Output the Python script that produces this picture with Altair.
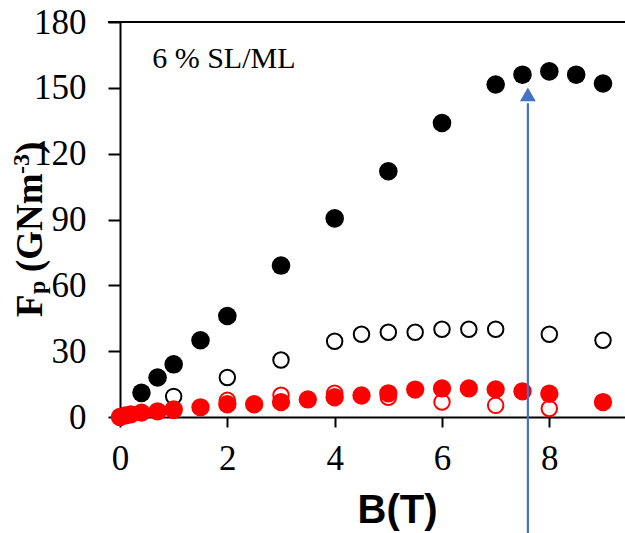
import altair as alt
import pandas as pd

# black filled circles
bf_x = [0.4, 0.7, 1, 1.5, 2, 3, 4, 5, 6, 7, 7.5, 8, 8.5, 9]
bf_y = [11, 18, 24, 35, 46, 69, 90.5, 112, 134, 151.5, 156, 157.5, 156, 152]
# black open circles
bo_x = [1, 2, 3, 4, 4.5, 5, 5.5, 6, 6.5, 7, 8, 9]
bo_y = [9.4, 18, 26, 34.5, 37.7, 38.6, 38.6, 40, 40, 40, 37.7, 35]
# red filled circles
rf_x = [0, 0.1, 0.2, 0.4, 0.7, 1, 1.5, 2, 2.5, 3, 3.5, 4, 4.5, 5, 5.5, 6, 6.5, 7, 7.5, 8, 9]
rf_y = [0, 0.7, 1.2, 2, 2.6, 3.5, 4.4, 5.8, 5.8, 6.8, 8, 9, 9.8, 10.8, 12.5, 13, 13, 12.6, 11.7, 10.6, 6.8]
# red open circles
ro_x = [0, 1, 2, 3, 4, 5, 6, 7, 8]
ro_y = [0, 3, 7.6, 9.9, 10.8, 9, 6.8, 5.3, 3.9]

arrow_x = 7.6
arrow_y_start = -60
arrow_y_end = 143
arrow_head_y = 147

x_ticks = [0, 2, 4, 6, 8]
y_ticks = [0, 30, 60, 90, 120, 150, 180]

SERIF = "Liberation Serif"

xs = alt.Scale(domain=[0, 9.41], nice=False, zero=False)
ys = alt.Scale(domain=[0, 180], nice=False)

x_axis = alt.Axis(values=x_ticks, title="B(T)", labelFont=SERIF, labelFontSize=35,
                  labelColor="black", labelPadding=14, tickSize=10, tickWidth=2,
                  tickColor="black", domainColor="black", domainWidth=2, grid=False,
                  titleFont="Liberation Sans", titleFontSize=40, titleFontWeight="bold",
                  titleColor="black", titleX=277, titleY=105, titleBaseline="alphabetic",
                  titleAlign="center", labelFlush=False)
y_axis = alt.Axis(values=y_ticks, title=None, labelFont=SERIF, labelFontSize=35,
                  labelColor="black", labelPadding=22, tickSize=12, tickWidth=2,
                  tickColor="black", domainColor="black", domainWidth=2, grid=False,
                  labelFlush=False)

df_bf = pd.DataFrame({"x": bf_x, "y": bf_y})
df_bo = pd.DataFrame({"x": bo_x, "y": bo_y})
df_rf = pd.DataFrame({"x": rf_x, "y": rf_y})
df_ro = pd.DataFrame({"x": ro_x, "y": ro_y})

bf = alt.Chart(df_bf).mark_circle(size=345, opacity=1, color="black").encode(
    x=alt.X("x:Q", scale=xs, axis=x_axis),
    y=alt.Y("y:Q", scale=ys, axis=y_axis),
)
bo = alt.Chart(df_bo).mark_point(shape="circle", size=240, filled=False, stroke="black",
                                  strokeWidth=2, opacity=1).encode(
    x=alt.X("x:Q", scale=xs), y=alt.Y("y:Q", scale=ys))
ro = alt.Chart(df_ro).mark_point(shape="circle", size=240, filled=False, stroke="#ff0000",
                                  strokeWidth=2, opacity=1).encode(
    x=alt.X("x:Q", scale=xs), y=alt.Y("y:Q", scale=ys))
rf = alt.Chart(df_rf).mark_circle(size=335, opacity=1, color="#ff0000").encode(
    x=alt.X("x:Q", scale=xs), y=alt.Y("y:Q", scale=ys))

top_line = alt.Chart(pd.DataFrame({"a": [0]})).mark_rule(color="black", strokeWidth=2).encode(
    x=alt.value(-12), x2=alt.value(505), y=alt.value(0))

arrow_df = pd.DataFrame({"x": [arrow_x], "y": [arrow_y_start], "y2": [arrow_y_end], "yh": [arrow_head_y]})
arrow_line = alt.Chart(arrow_df).mark_rule(color="#4472C4", strokeWidth=2.2, clip=False).encode(
    x=alt.X("x:Q", scale=xs), y=alt.Y("y:Q", scale=ys), y2="y2:Q")
arrow_head = alt.Chart(arrow_df).mark_point(shape="triangle-up", filled=True, size=250,
                                             color="#4472C4", opacity=1).encode(
    x=alt.X("x:Q", scale=xs), y=alt.Y("yh:Q", scale=ys))

label = alt.Chart(pd.DataFrame({"x": [0.6], "y": [159], "t": ["6 % SL/ML"]})).mark_text(
    font=SERIF, fontSize=30, align="left", baseline="alphabetic", color="black").encode(
    x=alt.X("x:Q", scale=xs), y=alt.Y("y:Q", scale=ys), text="t:N")

def ytitle_piece(txt, px, py, size):
    return alt.Chart(pd.DataFrame({"a": [0]})).mark_text(
        text=txt, font=SERIF, fontSize=size, fontWeight="bold", angle=270,
        align="left", baseline="alphabetic", color="black").encode(
        x=alt.value(px), y=alt.value(py))

yt = [
    ytitle_piece("F", -78, 295, 37),
    ytitle_piece("p", -75, 272, 24),
    ytitle_piece("(GNm", -78, 250, 37),
    ytitle_piece("-3", -91, 152, 24),
    ytitle_piece(")", -78, 132, 37),
]

chart = alt.layer(bf, bo, ro, rf, top_line, arrow_line, arrow_head, label, *yt).properties(
    width=505, height=395,
    autosize=alt.AutoSizeParams(type="none"),
    padding={"left": 120, "top": 22, "right": 0, "bottom": 116},
).configure_view(stroke=None)

chart.save("out.html", embed_options={"renderer": "svg", "actions": False})
